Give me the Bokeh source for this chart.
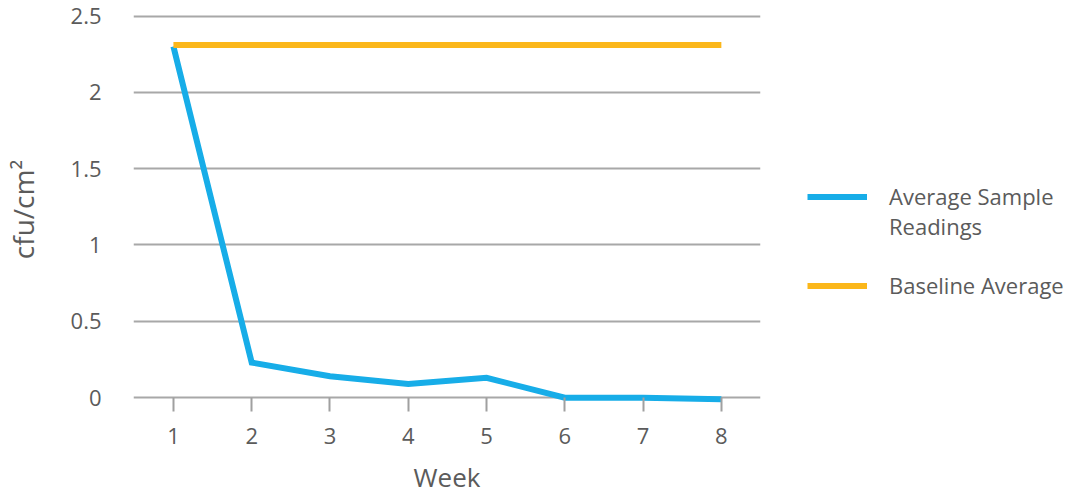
from bokeh.plotting import figure
from bokeh.models import Range1d, Legend, LegendItem, FixedTicker
from bokeh.embed import file_html
from bokeh.resources import INLINE

weeks = [1, 2, 3, 4, 5, 6, 7, 8]
sample_readings = [2.30, 0.23, 0.14, 0.09, 0.13, 0.00, 0.00, -0.01]
baseline_average = [2.31, 2.31, 2.31, 2.31, 2.31, 2.31, 2.31, 2.31]
y_ticks = [0, 0.5, 1, 1.5, 2, 2.5]
legend_lines = ["Average Sample", "Readings", " ", "Baseline Average"]

FONT = "Open Sans"
TXT = "#5b5b5b"
BLUE = "#17ade8"
ORANGE = "#fbb71a"

p = figure(frame_width=627, frame_height=390,
           min_border_left=0, min_border_right=292,
           min_border_top=14, min_border_bottom=0,
           x_range=Range1d(0.49, 8.5), y_range=Range1d(-0.045, 2.51),
           output_backend="svg", toolbar_location=None)
p.outline_line_color = None
p.background_fill_color = "white"

r1 = p.line(weeks, sample_readings, line_color=BLUE, line_width=6, line_join="miter")
r2 = p.line(weeks, baseline_average, line_color=ORANGE, line_width=6)
r_blank = p.line([], [], line_alpha=0)

# x axis
xa = p.xaxis[0]
xa.ticker = FixedTicker(ticks=weeks)
xa.axis_line_color = None
xa.major_tick_line_color = "#a0a0a0"
xa.major_tick_line_width = 2
xa.major_tick_in = 7
xa.major_tick_out = 7
xa.minor_tick_line_color = None
xa.major_label_text_font = FONT
xa.major_label_text_font_size = "22px"
xa.major_label_text_color = TXT
xa.major_label_standoff = 16
xa.axis_label = "Week"
xa.axis_label_text_font = FONT
xa.axis_label_text_font_size = "26px"
xa.axis_label_text_font_style = "normal"
xa.axis_label_text_color = TXT
xa.axis_label_standoff = 12

# y axis
ya = p.yaxis[0]
ya.ticker = FixedTicker(ticks=y_ticks)
ya.axis_line_color = None
ya.major_tick_line_color = None
ya.minor_tick_line_color = None
ya.major_label_text_font = FONT
ya.major_label_text_font_size = "22px"
ya.major_label_text_color = TXT
ya.major_label_standoff = 26
ya.axis_label = "cfu/cm²"
ya.axis_label_text_font = FONT
ya.axis_label_text_font_size = "28px"
ya.axis_label_text_font_style = "normal"
ya.axis_label_text_color = TXT
ya.axis_label_standoff = 26

p.xgrid.grid_line_color = None
p.ygrid.ticker = FixedTicker(ticks=y_ticks)
p.ygrid.grid_line_color = "#a8a8a8"
p.ygrid.grid_line_width = 2

legend = Legend(items=[LegendItem(label=legend_lines[0], renderers=[r1]),
                       LegendItem(label=legend_lines[1], renderers=[r_blank]),
                       LegendItem(label=legend_lines[2], renderers=[r_blank]),
                       LegendItem(label=legend_lines[3], renderers=[r2])],
                location=(47, 104),
                glyph_width=60, glyph_height=29, label_height=29,
                label_standoff=22, padding=0, margin=0, spacing=0,
                border_line_color=None, background_fill_alpha=0,
                label_text_font=FONT, label_text_font_size="22px",
                label_text_color=TXT, label_text_line_height=1.0)
p.add_layout(legend, "right")

open("out.html", "w").write(file_html(p, INLINE))
